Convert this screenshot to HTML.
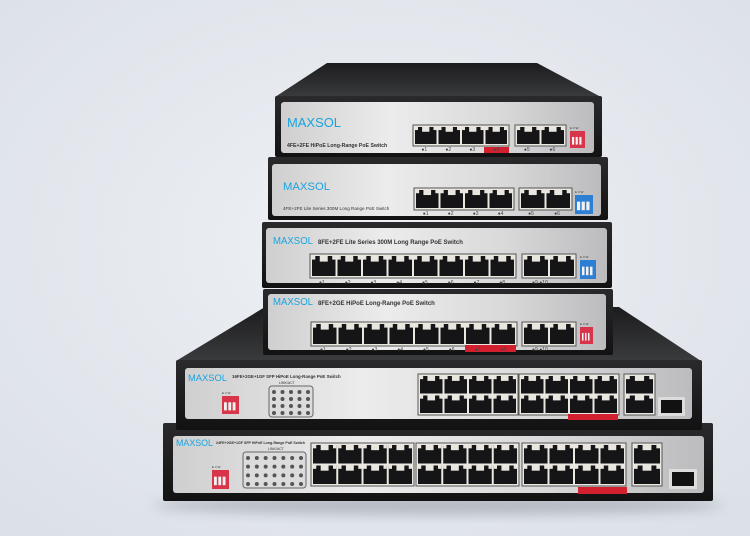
<!DOCTYPE html>
<html><head><meta charset="utf-8">
<style>
html,body{margin:0;padding:0;width:750px;height:536px;overflow:hidden;background:#e3e7ed}
svg{display:block}
text{font-family:"Liberation Sans",sans-serif}
</style></head>
<body>
<svg id="s" width="750" height="536" viewBox="0 0 750 536" xmlns="http://www.w3.org/2000/svg">
<defs>
<radialGradient id="bg" cx="0.5" cy="0.45" r="0.7">
<stop offset="0" stop-color="#eef1f5"/><stop offset="1" stop-color="#dce1e8"/>
</radialGradient>
<linearGradient id="pan" x1="0" y1="0" x2="1" y2="0">
<stop offset="0" stop-color="#cfcfd0"/><stop offset="0.35" stop-color="#ececec"/><stop offset="0.7" stop-color="#d9d9da"/><stop offset="1" stop-color="#bcbcbe"/>
</linearGradient>
<linearGradient id="lid" x1="0" y1="0" x2="0" y2="1">
<stop offset="0" stop-color="#1c1c1e"/><stop offset="1" stop-color="#3a3b3d"/>
</linearGradient>
<linearGradient id="body" x1="0" y1="0" x2="0" y2="1">
<stop offset="0" stop-color="#2a2a2c"/><stop offset="1" stop-color="#121213"/>
</linearGradient>
<filter id="sh" x="-0.2" y="-0.2" width="1.4" height="1.6"><feGaussianBlur stdDeviation="6"/></filter>
</defs>
<rect width="750" height="536" fill="url(#bg)"/>
<ellipse cx="438" cy="505" rx="285" ry="10" fill="#8a9099" opacity="0.5" filter="url(#sh)"/>
<g id="g"></g>
</svg>
<script>
var g=document.getElementById('g'),NS='http://www.w3.org/2000/svg';
function el(t,a,txt){var e=document.createElementNS(NS,t);for(var k in a)e.setAttribute(k,a[k]);if(txt)e.textContent=txt;g.appendChild(e);return e;}
function rect(x,y,w,h,f,rx){return el('rect',{x:x,y:y,width:w,height:h,fill:f,rx:rx||0});}
function txt(x,y,s,sz,f,w,ls){return el('text',{x:x,y:y,'font-size':sz,fill:f,'font-weight':w||'normal','letter-spacing':ls||0},s);}
function port(x,y,w,h){rect(x,y,w,h,'#151517');var tw=w*0.34;rect(x+(w-tw)/2,y,tw,h*0.28,'#e9e6df');rect(x,y,w*0.14,h*0.18,'#e9e6df');rect(x+w*0.86,y,w*0.14,h*0.18,'#e9e6df');}
function group(x,y,w,h,n,rows){rect(x,y,w,h,'#ebe8e1');rect(x,y,w,h,'none').setAttribute('stroke','#555');
 var p=2,pw=(w-p*(n+1))/n,ph=(h-p*(rows+1))/rows;
 for(var r=0;r<rows;r++)for(var i=0;i<n;i++)port(x+p+i*(pw+p),y+p+r*(ph+p),pw,ph);}
function dip(x,y,w,h,c){rect(x,y,w,h,c);for(var i=0;i<3;i++){rect(x+2+i*(w-4)/3,y+h*0.35,(w-4)/3-1.5,h*0.45,'#f2f2f2');}
 txt(x,y-2,'E  V  W',3,'#333');}
function lid(x1,x2,y1,X1,X2,y2){el('polygon',{points:x1+','+y1+' '+x2+','+y1+' '+X2+','+y2+' '+X1+','+y2,fill:'url(#lid)'});}
function sw(bx,by,bw,bh,px,py,pw,ph){rect(bx,by,bw,bh,'url(#body)',2);rect(px,py,pw,ph,'url(#pan)',3);}
function logo(x,y,sz,w){var t=txt(x,y,'MAXSOL',sz,'#1aa3df','normal');t.setAttribute('textLength',w);t.setAttribute('lengthAdjust','spacingAndGlyphs');}
function nums(x0,x1,y,n,start){var st=(x1-x0)/n;for(var i=0;i<n;i++)txt(x0+i*st+st*0.35,y,'●'+(start+i),5,'#444');}
function leds(x,y,w,h,cols){rect(x,y,w,h,'#dcdcdc',3).setAttribute('stroke','#666');
 for(var c=0;c<cols;c++)for(var r=0;r<4;r++)el('circle',{cx:x+5+c*(w-10)/(cols-1),cy:y+6+r*(h-10)/3,r:2,fill:'#555'});}

// Switch 6 (bottom)
sw(163,423,550,78,173,436,531,57);
logo(176,446,9,37);txt(216,444,'24FE+2GE+1GF SFP HiPoE Long-Range PoE Switch',3.6,'#333','bold');
txt(268,450,'LINK/ACT',3.5,'#333');
leds(243,452,63,36,7);dip(212,470,17,19,'#d8344a');
group(311,443,103,43,4,2);group(416,443,103,43,4,2);group(522,443,104,43,4,2);group(632,443,30,43,1,2);
rect(669,469,28,20,'#dcdcdc');rect(672,472,22,14,'#111');
rect(578,487,49,7,'#d3202e');
// Switch 5 lid+body
lid(265,619,307,176,701,361);
sw(176,360,526,70,185,368,507,51);
logo(188,381,9.5,39);txt(232,378,'16FE+2GE+1GF SFP HiPoE Long-Range PoE Switch',4.4,'#333','bold');
txt(279,384,'LINK/ACT',3.5,'#333');
leds(269,386,44,31,5);dip(222,396,17,18,'#d8344a');
group(418,374,100,41,4,2);group(519,374,100,41,4,2);group(624,374,31,41,1,2);
rect(658,397,27,19,'#dcdcdc');rect(661,400,21,13,'#111');
rect(568,414,50,6,'#d3202e');
// Switch 4
sw(263,289,350,66,268,294,338,56);
logo(273,305,10,40);txt(318,305,'8FE+2GE HiPoE Long-Range PoE Switch',6,'#333','bold');
group(311,322,206,24,8,1);group(522,322,54,24,2,1);
rect(465,345,51,7,'#d3202e');nums(311,517,351,8,1);txt(532,351,'●9     ●10',5,'#444');
dip(580,327,13,17,'#d8344a');
// Switch 3
sw(262,222,350,66,266,228,341,55);
logo(273,244,10,40);txt(318,244,'8FE+2FE Lite Series 300M Long Range PoE Switch',6,'#333','bold');
group(310,254,206,24,8,1);group(522,254,54,24,2,1);
nums(310,516,284,8,1);txt(532,284,'●9     ●10',5,'#444');
dip(580,260,16,19,'#2d7fd4');
// Switch 2
sw(268,157,340,63,272,164,329,52);
logo(283,190,11,47);txt(283,210,'4FE+2FE Lite Series 300M Long Range PoE Switch',4.6,'#333');
group(414,188,100,22,4,1);group(519,188,53,22,2,1);
nums(414,514,215,4,1);nums(519,571,215,2,5);
dip(575,195,18,19,'#2d7fd4');
// Switch 1 lid+body
lid(327,537,63,275,601,97);
sw(275,96,327,61,281,102,313,51);
logo(287,127,13,54);txt(287,147,'4FE+2FE HiPoE Long-Range PoE Switch',5.2,'#333','bold');
group(413,125,96,21,4,1);group(515,125,51,21,2,1);
rect(484,147,25,6,'#d3202e');nums(413,509,151,4,1);nums(515,566,151,2,5);
dip(570,131,15,17,'#d8344a');
</script>
</body></html>
